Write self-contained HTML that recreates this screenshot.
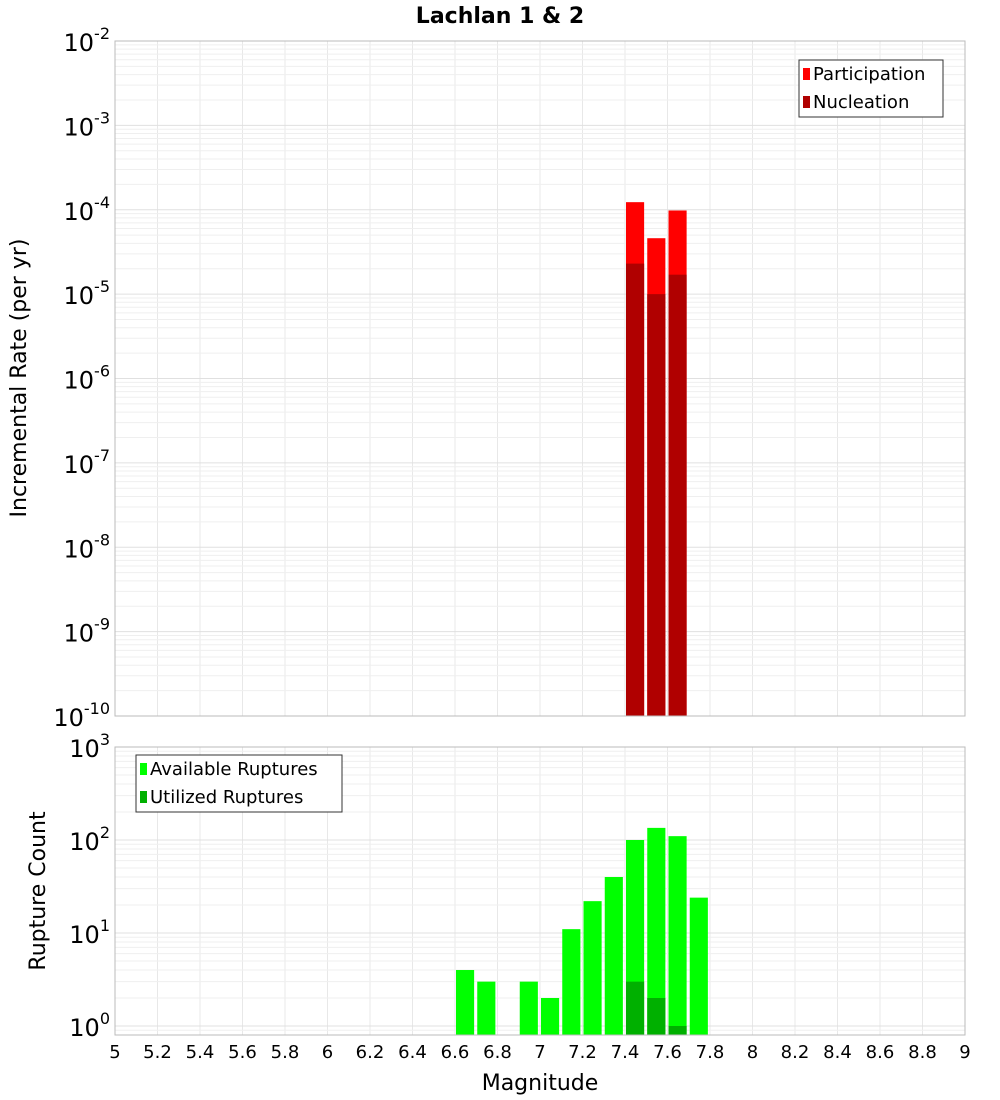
<!DOCTYPE html>
<html><head><meta charset="utf-8"><style>
body{margin:0;background:#fff}
svg{display:block;font-family:"DejaVu Sans","Liberation Sans",sans-serif}
</style></head><body>
<svg id="chart" width="1000" height="1100">
<text x="500" y="23" text-anchor="middle" font-weight="bold" font-size="22">Lachlan 1 &amp; 2</text>
<g id="g"></g>
</svg>
<script>
const binCenters=[7.45,7.55,7.65];
const participation=[1.23e-4,4.6e-5,9.8e-5];
const nucleation=[2.3e-5,1.0e-5,1.7e-5];
const countBins=[6.65,6.75,6.95,7.05,7.15,7.25,7.35,7.45,7.55,7.65,7.75];
const available=[4,3,3,2,11,22,40,100,135,110,24];
const utilBins=[7.45,7.55,7.65];
const utilized=[3,2,1];
const xTicks=[5,5.2,5.4,5.6,5.8,6,6.2,6.4,6.6,6.8,7,7.2,7.4,7.6,7.8,8,8.2,8.4,8.6,8.8,9];
const topExp=[-2,-3,-4,-5,-6,-7,-8,-9,-10];
const botExp=[3,2,1,0];

const NS='http://www.w3.org/2000/svg';
const g=document.getElementById('g');
function el(t,a,p){const e=document.createElementNS(NS,t);for(const k in a)e.setAttribute(k,a[k]);(p||g).appendChild(e);return e;}
const X0=115,X1=965;
const xs=v=>X0+(v-5)/4*(X1-X0);
const T0=41,T1=716;
const yt=v=>T0+(-2-Math.log10(v))*(T1-T0)/8;
const B0=747,B1=1035,BD=93;
const yb=v=>B0+(3-Math.log10(v))*BD;

function grid(top,bot,yf,emin,emax){
  for(const t of xTicks){const l=el('line',{x1:xs(t),x2:xs(t),y1:top,y2:bot,stroke:'#e8e8e8'});
  }
  for(let e=emin;e<emax;e++)for(let m=1;m<10;m++){const y=yf(m*Math.pow(10,e));if(y<top||y>bot)continue;
  const l=el('line',{x1:X0,x2:X1,y1:y,y2:y,stroke:m==1?'#e0e0e0':'#efefef'});
  }
}
grid(T0,T1,yt,-10,-2);
grid(B0,B1,yb,-1,3);

// top bars
const bw=xs(5.09)-xs(5);
binCenters.forEach((c,i)=>{
  const x=xs(c-0.05)+1;
  const r=el('rect',{x:x,y:yt(participation[i]),width:bw-1,height:T1-yt(participation[i]),fill:'#ff0000'});
  
  const n=el('rect',{x:x,y:yt(nucleation[i]),width:bw-1,height:T1-yt(nucleation[i]),fill:'#b00000'});
  
});
countBins.forEach((c,i)=>{
  const x=xs(c-0.05)+1,y=yb(available[i]);
  const r=el('rect',{x:x,y:y,width:bw-1,height:B1-y,fill:'#00ff00'});
  
});
utilBins.forEach((c,i)=>{
  const x=xs(c-0.05)+1,y=yb(utilized[i]);
  const r=el('rect',{x:x,y:y,width:bw-1,height:B1-y,fill:'#00b000'});
  
});
// frames
const f1=el('rect',{x:X0,y:T0,width:X1-X0,height:T1-T0,fill:'none',stroke:'#bbb'});

const f2=el('rect',{x:X0,y:B0,width:X1-X0,height:B1-B0,fill:'none',stroke:'#bbb'});


function ylab(e,y){
  const t=el('text',{x:110,y:y+10,'text-anchor':'end','font-size':'24'});
  
  t.textContent='10';
  const s=el('tspan',{dy:'-12','font-size':'16'},t);s.textContent=String(e);
}
topExp.forEach(e=>ylab(e,yt(Math.pow(10,e))));
botExp.forEach(e=>ylab(e,yb(Math.pow(10,e))));
xTicks.forEach(v=>{
  const t=el('text',{x:xs(v),y:1058,'text-anchor':'middle','font-size':'18'});
  
  t.textContent=String(v);
});
const xt=el('text',{x:540,y:1090,'text-anchor':'middle','font-size':'22'});
xt.textContent='Magnitude';
const y1=el('text',{x:26,y:378,'text-anchor':'middle','font-size':'22',transform:'rotate(-90 26 378)'});
y1.textContent='Incremental Rate (per yr)';
const y2=el('text',{x:45,y:891,'text-anchor':'middle','font-size':'22',transform:'rotate(-90 45 891)'});
y2.textContent='Rupture Count';

function legend(x,y,w,items,name){
  const b=el('rect',{x:x,y:y,width:w,height:57,fill:'#fff',stroke:'#333'});
  
  items.forEach((it,i)=>{
    const s=el('rect',{x:x+4,y:y+8+i*28,width:7,height:12,fill:it[1]});
    
    const t=el('text',{x:x+14,y:y+20+i*28,'font-size':'18'});
    t.textContent=it[0];
  });
}
legend(799,60,144,[['Participation','#ff0000'],['Nucleation','#b00000']],'top-legend');
legend(136,755,206,[['Available Ruptures','#00ff00'],['Utilized Ruptures','#00b000']],'bottom-legend');
</script>
</body></html>
